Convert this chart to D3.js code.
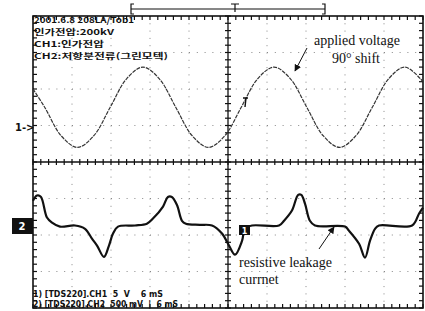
<!DOCTYPE html>
<html>
<head>
<meta charset="utf-8">
<script src="https://cdn.jsdelivr.net/npm/d3@7"></script>
<style>
  html, body { margin: 0; padding: 0; background: #fff; }
  svg { display: block; }
</style>
</head>
<body>
<div id="chart"></div>
<script>
// ---- data (time in ms, 5 ms/div; level in divisions) ----
const ch1Time = [0, 1.5, 3.6, 5.7, 7.8, 9.9, 12.0, 14.1, 16.2, 18.3, 20.4, 22.5, 24.6, 26.7,
  28.8, 30.9, 33.0, 35.1, 37.2, 39.3, 41.4, 43.5, 45.6, 47.7, 50];
const ch1Level = [2.0, 1.5, 0.72, 0.4, 0.72, 1.5, 2.28, 2.6, 2.28, 1.5, 0.72, 0.4, 0.72, 1.5,
  2.28, 2.6, 2.28, 1.5, 0.72, 0.4, 0.72, 1.5, 2.28, 2.6, 2.2];

const ch2Time = [0, 0.5, 1.0, 1.79, 2.44, 3.46, 5.38, 6.67, 7.56, 8.21, 9.1, 9.74, 10.26, 10.9,
  13.08, 14.6, 15.38, 16.67, 17.3, 17.8, 18.46, 19.1, 19.6, 21.4, 22.95, 24.23, 25.13, 25.9, 26.8,
  27.18, 28.08, 31.54, 32.18, 33.2, 34.0, 34.4, 34.87, 35.5, 36.15, 40.0, 40.5, 41.8, 42.56, 43.2,
  43.85, 44.36, 48.6, 49.5, 50];
const ch2Level = [-1.06, -0.92, -0.95, -1.52, -1.66, -1.77, -1.74, -1.83, -2.10, -2.29, -2.60, -2.29,
  -1.96, -1.77, -1.74, -1.69, -1.55, -1.22, -0.96, -0.96, -1.18, -1.61, -1.69, -1.72, -1.74, -1.96,
  -2.29, -2.54, -2.16, -1.83, -1.74, -1.74, -1.61, -1.33, -0.9, -0.9, -1.14, -1.61, -1.74, -1.77,
  -1.88, -2.24, -2.62, -2.16, -1.83, -1.74, -1.74, -1.41, -1.25];

const headerLines = ["2001.6.8 208LA/Tob1", "인가전압:200kV", "CH1:인가전압", "CH2:저항분전류(그린모텍)"];
const headerWidths = [100, 80, 70, 134];
const footerLines = ["1) [TDS220].CH1  5  V    6 mS", "2) [TDS220].CH2  500 mV  |  6 mS"];
const footerWidths = [130, 145];

const W = 425, H = 311;
const pL = 33, pR = 423, pT = 16, pB = 308;

const svg = d3.select("#chart").append("svg")
  .attr("width", W).attr("height", H);

const x = d3.scaleLinear().domain([0, 50]).range([pL, pR]);
const y = d3.scaleLinear().domain([-4, 4]).range([pB, pT]);

// grid (dotted) every division
const g = svg.append("g");
d3.range(1, 10).filter(d => d !== 5).forEach(d => {
  g.append("line")
    .attr("x1", x(d * 5)).attr("x2", x(d * 5))
    .attr("y1", pT).attr("y2", pB)
    .attr("stroke", "#888").attr("stroke-width", 1)
    .attr("stroke-dasharray", "1," + ((pB - pT) / 40 - 1));
});
d3.range(-3, 4).filter(d => d !== 0).forEach(d => {
  g.append("line")
    .attr("x1", pL).attr("x2", pR)
    .attr("y1", y(d)).attr("y2", y(d))
    .attr("stroke", "#888").attr("stroke-width", 1)
    .attr("stroke-dasharray", "1," + ((pR - pL) / 50 - 1));
});

// center cross with minor ticks
g.append("line").attr("x1", pL).attr("x2", pR).attr("y1", y(0)).attr("y2", y(0))
  .attr("stroke", "#111").attr("stroke-width", 1.3);
g.append("line").attr("x1", x(25)).attr("x2", x(25)).attr("y1", pT).attr("y2", pB)
  .attr("stroke", "#111").attr("stroke-width", 1.3);

const xMinor = d3.range(0, 50.01, 1);
const yMinor = d3.range(-4, 4.01, 0.2);
xMinor.forEach(t => {
  g.append("line").attr("x1", x(t)).attr("x2", x(t)).attr("y1", y(0) - 3).attr("y2", y(0) + 3)
    .attr("stroke", "#111").attr("stroke-width", 1.2);
  g.append("line").attr("x1", x(t)).attr("x2", x(t)).attr("y1", pT).attr("y2", pT + 4)
    .attr("stroke", "#111").attr("stroke-width", 1.2);
  g.append("line").attr("x1", x(t)).attr("x2", x(t)).attr("y1", pB - 4).attr("y2", pB)
    .attr("stroke", "#111").attr("stroke-width", 1.2);
});
yMinor.forEach(v => {
  g.append("line").attr("x1", x(25) - 3).attr("x2", x(25) + 3).attr("y1", y(v)).attr("y2", y(v))
    .attr("stroke", "#111").attr("stroke-width", 1.2);
  g.append("line").attr("x1", pL).attr("x2", pL + 4).attr("y1", y(v)).attr("y2", y(v))
    .attr("stroke", "#111").attr("stroke-width", 1.2);
  g.append("line").attr("x1", pR - 4).attr("x2", pR).attr("y1", y(v)).attr("y2", y(v))
    .attr("stroke", "#111").attr("stroke-width", 1.2);
});

// frame
svg.append("rect")
  .attr("x", pL).attr("y", pT)
  .attr("width", pR - pL).attr("height", pB - pT)
  .attr("fill", "none").attr("stroke", "#111").attr("stroke-width", 1.6);

// traces
const sineLine = d3.line().x(d => x(d[0])).y(d => y(d[1])).curve(d3.curveCatmullRom);
const currentLine = d3.line().x(d => x(d[0])).y(d => y(d[1])).curve(d3.curveCatmullRom.alpha(0.5));

svg.append("path")
  .attr("d", sineLine(d3.zip(ch1Time, ch1Level)))
  .attr("fill", "none").attr("stroke", "#333").attr("stroke-width", 1.2)
  .attr("stroke-dasharray", "4,1");

svg.append("path")
  .attr("d", currentLine(d3.zip(ch2Time, ch2Level)))
  .attr("fill", "none").attr("stroke", "#111").attr("stroke-width", 2.2)
  .attr("stroke-linejoin", "round");

// header / footer text
svg.selectAll(".hdr").data(headerLines).enter().append("text")
  .attr("class", "hdr")
  .attr("x", pL + 1).attr("y", (d, i) => 23 + i * 12)
  .attr("font-family", "'Noto Sans CJK KR', 'DejaVu Sans', sans-serif")
  .attr("font-weight", "bold").attr("font-size", 8)
  .attr("textLength", (d, i) => headerWidths[i])
  .attr("lengthAdjust", "spacingAndGlyphs")
  .attr("fill", "#111")
  .text(d => d);

svg.selectAll(".ftr").data(footerLines).enter().append("text")
  .attr("class", "ftr")
  .attr("x", pL).attr("y", (d, i) => 297 + i * 10)
  .attr("font-family", "'DejaVu Sans Condensed', 'DejaVu Sans', sans-serif")
  .attr("font-weight", "bold").attr("font-size", 8)
  .attr("textLength", (d, i) => footerWidths[i])
  .attr("lengthAdjust", "spacingAndGlyphs")
  .attr("fill", "#111")
  .style("white-space", "pre")
  .text(d => d);

// trigger position bracket at top
const br = svg.append("g").attr("stroke", "#111").attr("stroke-width", 1.2).attr("fill", "none");
br.append("line").attr("x1", 131).attr("x2", 325).attr("y1", 9).attr("y2", 9);
br.append("path").attr("d", "M134,4 L131,4 L131,14 L134,14");
br.append("path").attr("d", "M322,4 L325,4 L325,14 L322,14");
br.append("path").attr("d", "M231,4 L239,4 M235,4 L235,12");

// channel markers
svg.append("text").attr("x", 15).attr("y", 131)
  .attr("font-family", "'DejaVu Sans', sans-serif").attr("font-weight", "bold")
  .attr("font-size", 10).attr("fill", "#111").text("1->");

svg.append("rect").attr("x", 12).attr("y", 218).attr("width", 21).attr("height", 16).attr("fill", "#111");
svg.append("text").attr("x", 22).attr("y", 230).attr("text-anchor", "middle")
  .attr("font-family", "'DejaVu Sans', sans-serif").attr("font-weight", "bold")
  .attr("font-size", 10).attr("fill", "#fff").text("2");

svg.append("rect").attr("x", 239).attr("y", 225).attr("width", 11).attr("height", 10).attr("fill", "#111");
svg.append("text").attr("x", 244.5).attr("y", 233.5).attr("text-anchor", "middle")
  .attr("font-family", "'DejaVu Sans', sans-serif").attr("font-weight", "bold")
  .attr("font-size", 8).attr("fill", "#fff").text("1");

// trigger level mark on ch1
svg.append("path").attr("d", "M243,98 L248,98 M246,98 L245,107")
  .attr("stroke", "#111").attr("stroke-width", 1.4).attr("fill", "none");

// annotations
const defs = svg.append("defs");
defs.append("marker").attr("id", "ah").attr("viewBox", "0 0 10 10")
  .attr("refX", 9).attr("refY", 5).attr("markerWidth", 7).attr("markerHeight", 7)
  .attr("orient", "auto-start-reverse")
  .append("path").attr("d", "M0,0 L10,5 L0,10 z").attr("fill", "#111");

const serif = "'Liberation Serif', 'Times New Roman', serif";
svg.append("text").attr("x", 314).attr("y", 45).attr("font-family", serif)
  .attr("font-size", 14).attr("fill", "#111").text("applied voltage");
svg.append("text").attr("x", 356).attr("y", 63).attr("text-anchor", "middle").attr("font-family", serif)
  .attr("font-size", 14).attr("fill", "#111").text("90° shift");
svg.append("line").attr("x1", 307).attr("y1", 48).attr("x2", 295).attr("y2", 71)
  .attr("stroke", "#111").attr("stroke-width", 1).attr("marker-end", "url(#ah)");

svg.append("text").attr("x", 239).attr("y", 267).attr("font-family", serif)
  .attr("font-size", 14).attr("fill", "#111").text("resistive leakage");
svg.append("text").attr("x", 239).attr("y", 284).attr("font-family", serif)
  .attr("font-size", 14).attr("fill", "#111").text("currnet");
svg.append("line").attr("x1", 319).attr("y1", 249).attr("x2", 334).attr("y2", 227)
  .attr("stroke", "#111").attr("stroke-width", 1).attr("marker-end", "url(#ah)");
</script>
</body>
</html>
